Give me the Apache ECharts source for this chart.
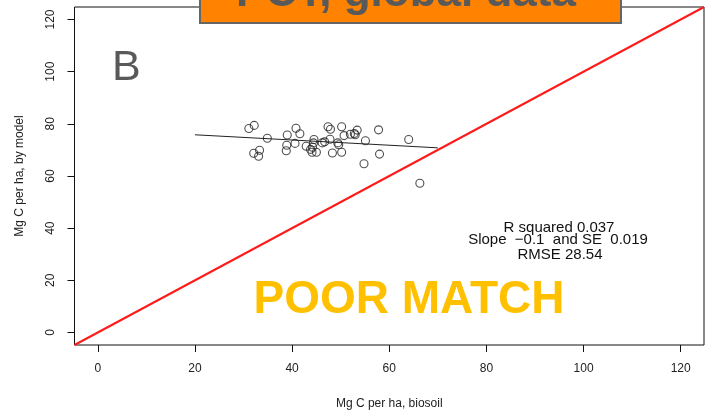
<!DOCTYPE html>
<html>
<head>
<meta charset="utf-8">
<script src="https://cdn.jsdelivr.net/npm/echarts@6/dist/echarts.min.js"></script>
<style>html,body{margin:0;padding:0;background:#fff}#c{width:712px;height:418px}</style>
</head>
<body>
<div id="c"></div>
<script>
// Observed (biosoil) vs modelled carbon, Mg C per ha
const biosoil = [31.1, 32.2, 34.9, 32.1, 33.3, 33.1, 39.0, 40.8, 41.6, 38.9, 38.8, 40.6, 42.9, 43.8, 44.5, 44.4, 44.1, 45.0, 46.2, 46.7, 47.4, 47.9, 47.8, 49.4, 49.6, 48.3, 50.2, 50.2, 50.7, 52.0, 52.8, 53.4, 55.1, 54.8, 57.8, 58.0, 64.0, 66.3, 44.2, 53.0];
const model   = [78.2, 79.4, 74.5, 68.7, 69.9, 67.6, 75.7, 78.3, 76.2, 71.8, 69.7, 72.5, 71.4, 70.2, 74.0, 72.7, 69.1, 69.1, 72.7, 73.1, 78.9, 77.9, 74.1, 72.7, 72.0, 68.8, 69.1, 78.9, 75.5, 76.0, 76.3, 77.6, 73.5, 64.7, 77.7, 68.4, 74.0, 57.2, 71.0, 75.8];
// Fitted regression line (end points)
const fitX = [20, 70];
const fitY = [75.8, 70.8];
// 1:1 reference line
const oneX = [-4.8, 124.8];
const oneY = [-4.8, 124.8];
// Axis ticks
const xTicks = [0, 20, 40, 60, 80, 100, 120];
const yTicks = [0, 20, 40, 60, 80, 100, 120];
// Annotation text
const statLines = ['R squared 0.037', 'Slope  \u22120.1  and SE  0.019', 'RMSE 28.54'];
const panelLetter = 'B';
const verdict = 'POOR MATCH';
const bannerText = 'PCT, global data';

const chart = echarts.init(document.getElementById('c'), null, {renderer: 'canvas'});
const FONT = '"Liberation Sans", Arial, sans-serif';
const axisCommon = {
  min: -4.8, max: 124.8,
  axisLine: {show: false, onZero: false},
  splitLine: {show: false},
  nameLocation: 'middle',
  nameTextStyle: {fontFamily: FONT, fontSize: 12, color: '#222'}
};
chart.setOption({
  animation: false,
  backgroundColor: '#fff',
  grid: {left: 74.5, right: 8, top: 7, bottom: 73, show: true, borderColor: '#111', borderWidth: 1, backgroundColor: 'transparent'},
  xAxis: Object.assign({}, axisCommon, {
    type: 'value',
    name: 'Mg C per ha, biosoil', nameGap: 53,
    axisTick: {show: true, length: 7, lineStyle: {color: '#111'}, customValues: xTicks},
    axisLabel: {margin: 18, fontFamily: FONT, fontSize: 12, color: '#222', customValues: xTicks}
  }),
  yAxis: Object.assign({}, axisCommon, {
    type: 'value',
    name: 'Mg C per ha, by model', nameGap: 49,
    axisTick: {show: true, length: 7, lineStyle: {color: '#111'}, customValues: yTicks},
    axisLabel: {margin: 18, rotate: 90, fontFamily: FONT, fontSize: 12, color: '#222', customValues: yTicks}
  }),
  series: [
    {
      type: 'line', data: oneX.map((x, i) => [x, oneY[i]]), symbol: 'none',
      lineStyle: {color: '#ff1a1a', width: 2}, z: 2, silent: true
    },
    {
      type: 'line', data: fitX.map((x, i) => [x, fitY[i]]), symbol: 'none',
      lineStyle: {color: '#222', width: 1}, z: 3, silent: true
    },
    {
      type: 'scatter', data: biosoil.map((x, i) => [x, model[i]]), symbol: 'circle', symbolSize: 8,
      itemStyle: {color: 'rgba(0,0,0,0)', borderColor: '#222', borderWidth: 1.1}, z: 4
    }
  ],
  graphic: [
    {type: 'rect', z: 100, shape: {x: 200, y: -10, width: 421, height: 33},
     style: {fill: '#ff8200', stroke: '#666', lineWidth: 2}},
    {type: 'text', z: 101, x: 406, y: 16,
     style: {text: bannerText, fontFamily: FONT, fontWeight: 'bold', fontSize: 44, fill: '#595959', align: 'center', verticalAlign: 'bottom'}},
    {type: 'text', z: 101, x: 112, y: 68,
     style: {text: panelLetter, fontFamily: FONT, fontSize: 43, fill: '#595959', align: 'left', verticalAlign: 'middle'}},
    {type: 'text', z: 101, x: 409, y: 300,
     style: {text: verdict, fontFamily: FONT, fontWeight: 'bold', fontSize: 46, fill: '#ffc000', align: 'center', verticalAlign: 'middle'}},
    {type: 'text', z: 101, x: 559, y: 227.5,
     style: {text: statLines[0], fontFamily: FONT, fontSize: 15, fill: '#111', align: 'center', verticalAlign: 'middle'}},
    {type: 'text', z: 101, x: 558, y: 240,
     style: {text: statLines[1], fontFamily: FONT, fontSize: 15, fill: '#111', align: 'center', verticalAlign: 'middle'}},
    {type: 'text', z: 101, x: 560, y: 254.5,
     style: {text: statLines[2], fontFamily: FONT, fontSize: 15, fill: '#111', align: 'center', verticalAlign: 'middle'}}
  ]
});
</script>
</body>
</html>
